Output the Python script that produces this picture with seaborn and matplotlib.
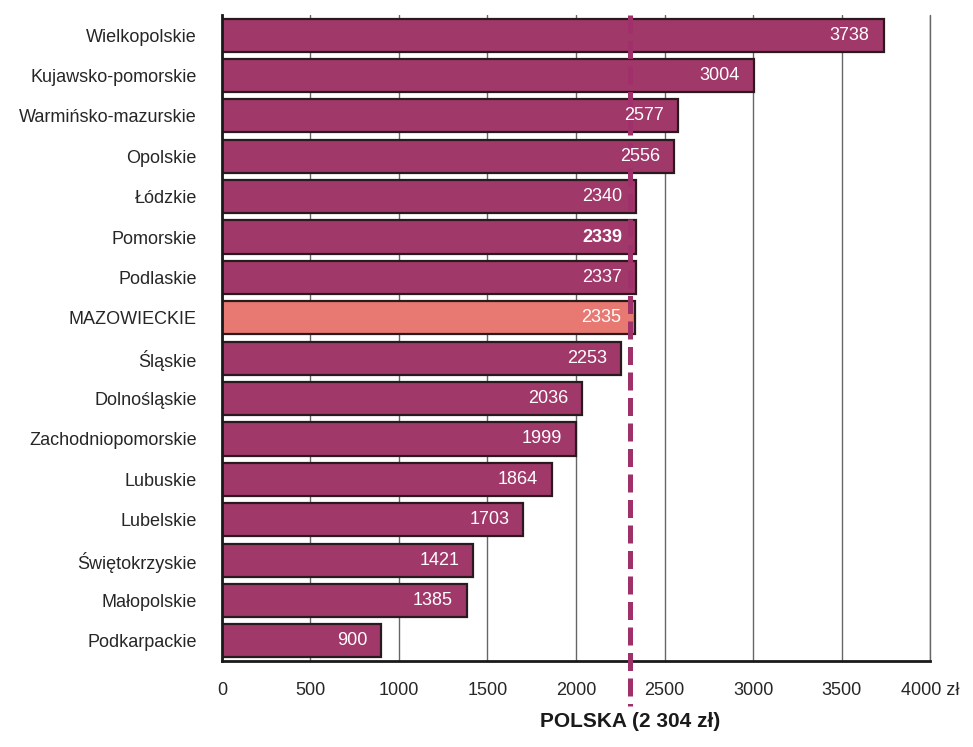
import matplotlib
matplotlib.use('Agg')
import matplotlib.pyplot as plt
import seaborn as sns
import pandas as pd
import numpy as np

# Data
regions = ['Wielkopolskie', 'Kujawsko-pomorskie', 'Warmińsko-mazurskie', 'Opolskie',
           'Łódzkie', 'Pomorskie', 'Podlaskie', 'MAZOWIECKIE', 'Śląskie',
           'Dolnośląskie', 'Zachodniopomorskie', 'Lubuskie', 'Lubelskie',
           'Świętokrzyskie', 'Małopolskie', 'Podkarpackie']
values = [3738, 3004, 2577, 2556, 2340, 2339, 2337, 2335, 2253,
          2036, 1999, 1864, 1703, 1421, 1385, 900]
highlight = 'MAZOWIECKIE'
bold_region = 'Pomorskie'
poland_avg = 2304
x_ticks = [0, 500, 1000, 1500, 2000, 2500, 3000, 3500, 4000]
x_labels = ['0', '500', '1000', '1500', '2000', '2500', '3000', '3500', '4000 zł']

sns.set_style('white')
plt.rcParams['font.family'] = ['Liberation Sans Narrow', 'Liberation Sans', 'DejaVu Sans']

df = pd.DataFrame({'region': regions, 'value': values})
df['group'] = np.where(df['region'] == highlight, 'hl', 'base')

fig = plt.figure(figsize=(9.73, 7.47), dpi=100)
ax = fig.add_axes([0.228, 0.115, 0.728, 0.865])

sns.barplot(data=df, x='value', y='region', hue='group', dodge=False,
            palette={'base': '#A0386A', 'hl': '#E87872'}, saturation=1, legend=False,
            width=0.82, edgecolor='#2a1a1e', linewidth=1.6, ax=ax, zorder=2)

ax.set_xlim(0, 4000)
ax.set_ylim(len(regions) - 0.5, -0.5)
ax.set_xticks(x_ticks)
ax.set_xticklabels(x_labels, fontsize=13)
ax.xaxis.grid(True, color='#666666', linewidth=1.0, zorder=0)
ax.axvline(x_ticks[-1], color='#666666', linewidth=1.0, zorder=0, clip_on=False)
ax.set_axisbelow(True)
ax.tick_params(axis='x', length=6, width=1, color='#222222', pad=12, direction='inout')

ax.set_yticks(range(len(regions)))
ax.set_yticklabels(regions, fontsize=13)
ax.set_yticks(np.arange(-0.5, len(regions), 1), minor=True)
ax.tick_params(axis='y', which='major', length=0, pad=18)
ax.tick_params(axis='y', which='minor', length=6, width=1, color='#222222')
ax.set_xlabel('')
ax.set_ylabel('')

for s in ['top', 'right']:
    ax.spines[s].set_visible(False)
for s in ['left', 'bottom']:
    ax.spines[s].set_linewidth(2)
    ax.spines[s].set_color('#1a1a1a')

# value labels inside bars
for i, (r, v) in enumerate(zip(regions, values)):
    ax.text(v - 80, i, str(v), ha='right', va='center', color='white', fontsize=13,
            fontweight='bold' if r == bold_region else 'normal', zorder=4)

# national average line
ax.plot([poland_avg, poland_avg], [-0.5, len(regions) + 0.6], color='#A0306A',
        linewidth=3.6, linestyle=(0, (3.6, 1.5)), zorder=3, clip_on=False)
ax.text(poland_avg, len(regions) + 1.0, 'POLSKA (2 304 zł)', ha='center', va='center',
        fontsize=15, fontweight='bold', color='#1a1a1a')

fig.savefig('out.png', dpi=100)
